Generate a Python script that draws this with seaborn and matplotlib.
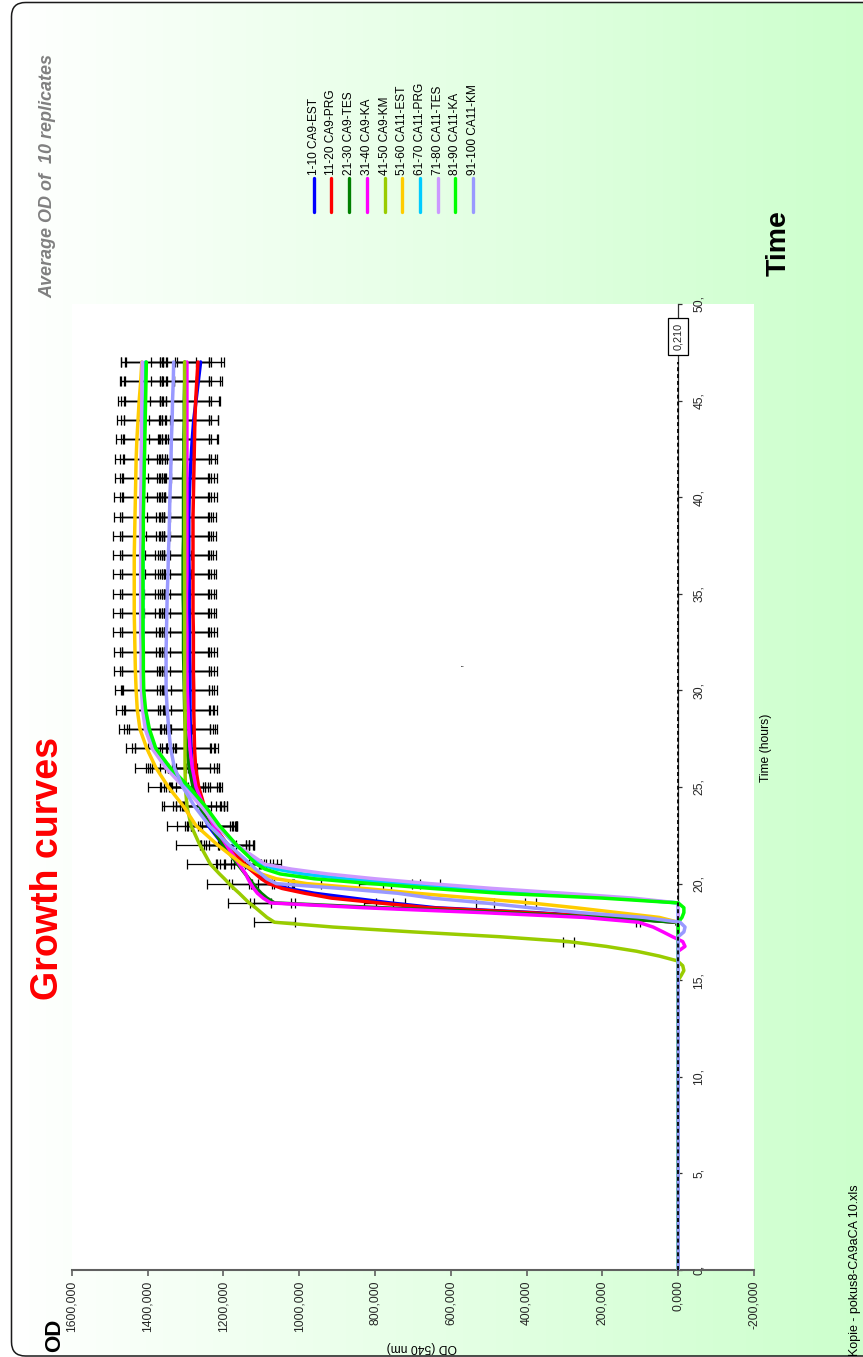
import numpy as np
import matplotlib
matplotlib.use("Agg")
import matplotlib.pyplot as plt
from matplotlib.patches import FancyBboxPatch
from matplotlib.lines import Line2D
import seaborn as sns

# ---------------------------------------------------------------- data
hours = [0, 15, 15.25, 15.5, 15.75, 16, 16.25, 16.5, 16.75, 17, 17.25, 17.5, 17.75,
         18, 18.25, 18.5, 18.75, 19, 19.25, 19.5, 19.75, 20, 20.25, 20.5, 20.75, 21,
         22, 23, 24, 25, 26, 27, 28, 29, 30, 31, 32, 33, 34, 35, 36, 37, 38, 39, 40,
         41, 42, 43, 44, 45, 46, 47]

strains = ["1-10 CA9-EST", "11-20 CA9-PRG", "21-30 CA9-TES", "31-40 CA9-KA",
           "41-50 CA9-KM", "51-60 CA11-EST", "61-70 CA11-PRG", "71-80 CA11-TES",
           "81-90 CA11-KA", "91-100 CA11-KM"]
colors = ["#0000FF", "#FF0000", "#008000", "#FF00FF", "#99CC00",
          "#FFCC00", "#00CCFF", "#CC99FF", "#00FF00", "#9999FF"]

od_ca9_est = [0, 0, 0, 0, 0, 0, 0, 0, 0, 0, 0, 0, 0, 5, 170, 380, 640, 760, 860, 960,
              1030, 1070, 1092, 1110, 1130, 1150,
              1200, 1240, 1262, 1275, 1282, 1285, 1287, 1288, 1288, 1288, 1289, 1289, 1290,
              1290, 1290, 1291, 1291, 1291, 1290, 1288, 1285, 1282, 1278, 1272, 1266, 1260]
od_ca9_prg = [0, 0, 0, 0, 0, 0, 0, 0, 0, 0, 0, 0, 0, 5, 170, 400, 660, 790, 915, 985,
              1045, 1080, 1100, 1115, 1130, 1143,
              1188, 1226, 1250, 1265, 1273, 1276, 1277, 1278, 1278, 1279, 1279, 1279, 1280,
              1280, 1280, 1280, 1280, 1280, 1279, 1278, 1277, 1276, 1275, 1273, 1270, 1267]
od_ca9_tes = [0, 0, 0, 0, 0, 0, 0, 0, 0, 0, 0, 0, 0, 5, 200, 470, 780, 1065, 1085, 1100,
              1112, 1122, 1132, 1142, 1152, 1162,
              1200, 1235, 1262, 1280, 1290, 1296, 1300, 1302, 1303, 1304, 1305, 1305, 1305,
              1306, 1306, 1306, 1305, 1305, 1305, 1305, 1304, 1304, 1303, 1303, 1302, 1302]
od_ca9_ka = [0, 0, 0, 0, 0, 0, 0, 0, -18, -12, 15, 40, 66, 105, 250, 520, 830, 1075, 1095,
             1110, 1120, 1128, 1135, 1141, 1150, 1158,
             1192, 1225, 1252, 1272, 1282, 1288, 1291, 1293, 1295, 1296, 1296, 1296, 1297,
             1297, 1296, 1296, 1296, 1296, 1296, 1296, 1296, 1296, 1296, 1296, 1296, 1296]
od_ca9_km = [0, 0, -8, -15, -12, 2, 50, 110, 190, 290, 470, 700, 910, 1065, 1085, 1100,
             1115, 1132, 1145, 1158, 1172, 1185, 1197, 1210, 1222, 1234,
             1262, 1285, 1296, 1300, 1301, 1301, 1301, 1301, 1302, 1302, 1302, 1302, 1302,
             1302, 1302, 1302, 1302, 1302, 1302, 1302, 1302, 1302, 1302, 1302, 1302, 1302]
od_ca11_est = [0, 0, 0, 0, 0, 0, 0, 0, 0, 0, 0, 0, 0, 0, 50, 160, 270, 390, 540, 690,
               830, 980, 1060, 1100, 1125, 1150,
               1215, 1272, 1305, 1345, 1378, 1402, 1420, 1427, 1430, 1432, 1433, 1434, 1435,
               1435, 1435, 1435, 1434, 1433, 1432, 1431, 1430, 1428, 1425, 1422, 1418, 1415]
od_ca11_prg = [0, 0, 0, 0, 0, 0, 0, 0, 0, 0, 0, 0, 0, 0, 0, 0, 0, 0, 160, 390,
               570, 730, 880, 990, 1060, 1100,
               1168, 1215, 1255, 1300, 1345, 1380, 1400, 1408, 1411, 1412, 1412, 1412, 1412,
               1412, 1412, 1412, 1412, 1412, 1412, 1411, 1410, 1409, 1408, 1407, 1406, 1405]
od_ca11_tes = [0, 0, 0, 0, 0, 0, 0, 0, 0, 0, 0, 0, 0, 0, 0, 0, 0, 0, 120, 300,
               490, 655, 800, 925, 1020, 1090,
               1165, 1218, 1258, 1305, 1352, 1388, 1406, 1413, 1416, 1417, 1417, 1418, 1418,
               1418, 1418, 1418, 1418, 1418, 1418, 1417, 1417, 1416, 1416, 1415, 1415, 1414]
od_ca11_ka = [0, 0, 0, 0, 0, 0, 0, 0, 0, 0, 0, 0, 0, 0, -10, -15, -15, 0, 200, 470,
              650, 810, 960, 1050, 1090, 1112,
              1165, 1210, 1247, 1290, 1340, 1378, 1395, 1405, 1410, 1411, 1411, 1412, 1412,
              1412, 1412, 1412, 1411, 1411, 1410, 1409, 1408, 1407, 1406, 1405, 1404, 1403]
od_ca11_km = [0, 0, 0, 0, 0, 0, 0, 0, 0, 0, 0, -15, -18, -5, 90, 260, 390, 510, 650, 740,
              890, 1060, 1085, 1100, 1115, 1128,
              1185, 1237, 1276, 1307, 1329, 1339, 1344, 1348, 1351, 1351, 1351, 1350, 1349,
              1348, 1346, 1345, 1343, 1342, 1341, 1339, 1338, 1337, 1335, 1334, 1332, 1331]

# relative standard deviation of the 10 replicates, per strain group
rel_sd = [0.05, 0.048, 0.05, 0.05, 0.05, 0.039, 0.039, 0.039, 0.039, 0.045]

blank_hours = [0, 47]
blank_od = [0.210, 0.210]

od_ticks = [1600, 1400, 1200, 1000, 800, 600, 400, 200, 0, -200]
time_ticks = [0, 5, 10, 15, 20, 25, 30, 35, 40, 45, 50]

series = [od_ca9_est, od_ca9_prg, od_ca9_tes, od_ca9_ka, od_ca9_km,
          od_ca11_est, od_ca11_prg, od_ca11_tes, od_ca11_ka, od_ca11_km]

# ---------------------------------------------------------------- style
sns.set_style("white")
plt.rcParams["font.family"] = ["Liberation Sans", "DejaVu Sans"]

W, H = 863, 1357


def fx(px):
    return px / W


def fy(py):
    return 1 - py / H


fig = plt.figure(figsize=(W / 100, H / 100), dpi=100)
fig.patch.set_facecolor("white")

# page background: white-to-green gradient inside a rounded frame
ax_bg = fig.add_axes([0, 0, 1, 1], zorder=-10)
ax_bg.set_xlim(0, W)
ax_bg.set_ylim(H, 0)
ax_bg.axis("off")
ramp = np.linspace(0, 1, 512)
grad = np.ones((2, 512, 3))
grad[:, :, 0] = 1 - 0.2 * ramp
grad[:, :, 2] = 1 - 0.2 * ramp
frame_kw = dict(boxstyle="round,pad=0,rounding_size=14")
clip = FancyBboxPatch((11.5, 2.5), 980, 1353.5, transform=ax_bg.transData,
                      fc="none", ec="none", **frame_kw)
ax_bg.add_patch(clip)
img = ax_bg.imshow(grad, extent=(11.5, W, H, 0), aspect="auto", interpolation="bilinear")
img.set_clip_path(clip)
ax_bg.add_patch(FancyBboxPatch((11.5, 2.5), 980, 1353.5, fc="none", ec="#1a1a1a",
                               lw=1.1, **frame_kw))

# plot area
ax = fig.add_axes([fx(71.7), fy(1270), (754 - 71.7) / W, (1270 - 304) / H])
ax.set_facecolor("white")
ax.set_xlim(1600, -200)
ax.set_ylim(0, 50)

# error bars (every full hour once growth starts)
for od, c, rs in zip(series, colors, rel_sd):
    eh, ev, ee = [], [], []
    for h, v in zip(hours, od):
        if h >= 17 and float(h).is_integer() and v > 30:
            eh.append(h)
            ev.append(v)
            ee.append(v * rs)
    ax.errorbar(ev, eh, xerr=ee, fmt="none", ecolor="black", elinewidth=0.9,
                capsize=3.3, capthick=0.9, zorder=2)

# growth curves
for od, c in zip(series, colors):
    sns.lineplot(x=od, y=hours, estimator=None, sort=False, color=c,
                 linewidth=2.5, ax=ax, zorder=3)

# blank wells
sns.lineplot(x=blank_od, y=blank_hours, estimator=None, sort=False, color="black",
             linewidth=1.3, linestyle=(0, (2.2, 1.6)), ax=ax, zorder=4)
ax.annotate(f"{blank_od[-1]:.3f}".replace(".", ","), xy=(blank_od[-1], blank_hours[-1]),
            xytext=(0, 18.5), textcoords="offset points", rotation=90,
            ha="center", va="center", fontsize=7.8,
            bbox=dict(boxstyle="square,pad=0.45", fc="white", ec="black", lw=0.9),
            zorder=6)
ax.text(577, 31.3, ",", rotation=90, fontsize=8, ha="center", va="center")

# axes
for side in ("top", "left"):
    ax.spines[side].set_visible(False)
ax.spines["bottom"].set_color("#606060")
ax.spines["bottom"].set_linewidth(1.5)
ax.spines["right"].set_position(("data", 0))
ax.spines["right"].set_color("#303030")
ax.spines["right"].set_linewidth(0.9)
ax.spines["right"].set_zorder(1)

ax.set_xticks(od_ticks)
ax.set_xticklabels([f"{v:.3f}".replace(".", ",") for v in od_ticks])
ax.set_yticks(time_ticks)
ax.set_yticklabels([f"{v}," for v in time_ticks])
ax.yaxis.set_ticks_position("right")
ax.tick_params(axis="x", bottom=True, direction="out", length=4, width=1.2,
               color="#606060", pad=3.5, labelsize=8.7, labelrotation=90)
ax.tick_params(axis="y", right=True, left=False, direction="out", length=3, width=0.9,
               color="#303030", pad=7.5, labelsize=8.7)
for lab in ax.get_yticklabels():
    lab.set_rotation(90)
    lab.set_va("center")
ax.set_xlabel("")
ax.set_ylabel("")
ax.grid(False)

# titles and labels
fig.text(fx(48), fy(868), "Growth curves", rotation=90, ha="center", va="center",
         fontsize=27, fontweight="bold", color="#FF0000")
fig.text(fx(48), fy(176), "Average OD of  10 replicates", rotation=90, ha="center",
         va="center", fontsize=13, fontweight="bold", fontstyle="italic", color="#808080")
fig.text(fx(779), fy(243), "Time", rotation=90, ha="center", va="center",
         fontsize=20.5, fontweight="bold", color="black")
fig.text(fx(55), fy(1335), "OD", rotation=90, ha="center", va="center",
         fontsize=16, fontweight="bold", color="black")
fig.text(fx(766), fy(748), "Time (hours)", rotation=90, ha="center", va="center",
         fontsize=8.7, color="black")
fig.text(fx(422), fy(1347), "OD (540 nm)", rotation=180, ha="center", va="center",
         fontsize=8.7, color="black")
fig.text(fx(855), fy(1356), "Kopie - pokus8-CA9aCA 10.xls", rotation=90, ha="center",
         va="bottom", fontsize=9, color="black")

# legend
for i, (name, c) in enumerate(zip(strains, colors)):
    xp = 313.7 + i * 17.7
    fig.add_artist(Line2D([fx(xp), fx(xp)], [fy(178), fy(212)], transform=fig.transFigure,
                          color=c, linewidth=2.4, solid_capstyle="round"))
    fig.text(fx(xp), fy(175), name, rotation=90, ha="center", va="bottom",
             fontsize=8.6, color="black")

fig.savefig("out.png", dpi=100)
